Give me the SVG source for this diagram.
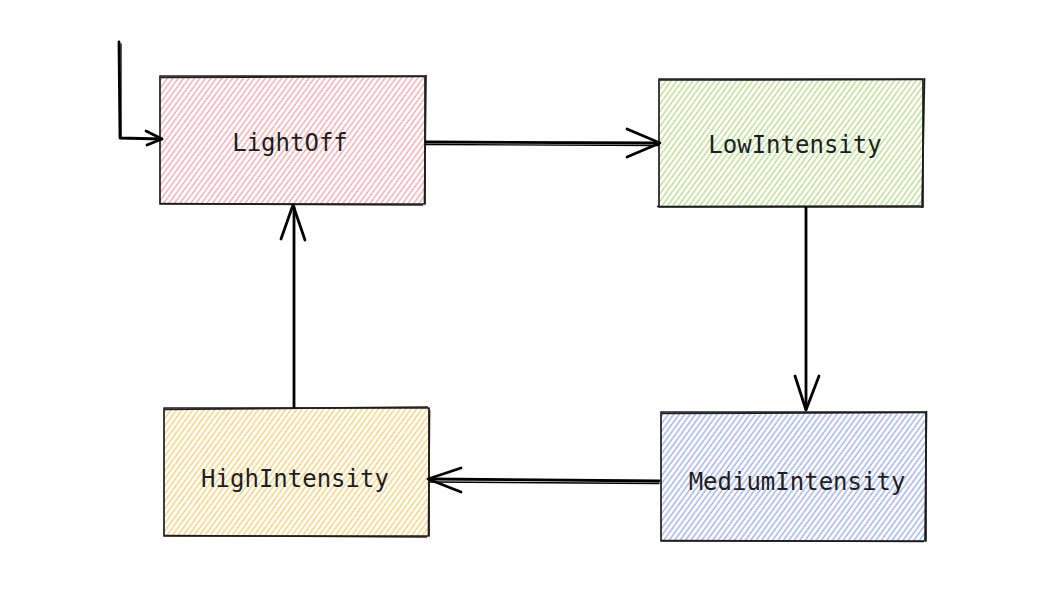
<svg xmlns="http://www.w3.org/2000/svg" width="1063" height="612" viewBox="0 0 1063 612">
<defs>
<pattern id="hRed" patternUnits="userSpaceOnUse" width="4.4" height="10" patternTransform="rotate(36)"><line x1="1" y1="-1" x2="1" y2="11" stroke="#f2a6a6" stroke-width="1.3"/></pattern>
<pattern id="hGreen" patternUnits="userSpaceOnUse" width="4.4" height="10" patternTransform="rotate(36)"><line x1="1" y1="-1" x2="1" y2="11" stroke="#b4dc88" stroke-width="1.3"/></pattern>
<pattern id="hYellow" patternUnits="userSpaceOnUse" width="4.4" height="10" patternTransform="rotate(36)"><line x1="1" y1="-1" x2="1" y2="11" stroke="#f5cf72" stroke-width="1.3"/></pattern>
<pattern id="hBlue" patternUnits="userSpaceOnUse" width="4.4" height="10" patternTransform="rotate(36)"><line x1="1" y1="-1" x2="1" y2="11" stroke="#9aacea" stroke-width="1.3"/></pattern>
</defs>
<style>
.box{stroke:#1e1e1e;stroke-width:1.7;stroke-linejoin:round}
.lbl{font-family:"DejaVu Sans Mono","Liberation Mono",monospace;font-size:24px;fill:#1e1e1e;text-anchor:middle;dominant-baseline:central}
.edge{fill:none;stroke:#000;stroke-width:2.8;stroke-linecap:round;stroke-linejoin:round}
.edge2{fill:none;stroke:#000;stroke-width:1.3;stroke-linecap:round}
</style>
<rect width="1063" height="612" fill="#ffffff"/>
<g id="LightOff">
<rect class="box" x="160" y="76" width="265" height="128" fill="url(#hRed)"/>
<path class="box" fill="none" d="M161 77.5 L424 76.5 M426 75 L424.5 203 M423 205 L160 203.5"/>
<text class="lbl" x="290" y="143">LightOff</text>
</g>
<g id="LowIntensity">
<rect class="box" x="659" y="79" width="264" height="128" fill="url(#hGreen)"/>
<path class="box" fill="none" d="M660 80 L922 79.5 M924.5 78 L922 208 M921 206 L657 206.5"/>
<text class="lbl" x="795" y="145">LowIntensity</text>
</g>
<g id="HighIntensity">
<rect class="box" x="164" y="408" width="265" height="128" fill="url(#hYellow)"/>
<path class="box" fill="none" d="M165 409.5 L428 407 M429.5 410 L428.5 536 M427 537 L164 535.5"/>
<text class="lbl" x="295" y="479">HighIntensity</text>
</g>
<g id="MediumIntensity">
<rect class="box" x="661" y="412" width="265" height="129" fill="url(#hBlue)"/>
<path class="box" fill="none" d="M662 413.5 L925 412.5 M926.5 411 L925 540 M924 541.5 L661 540.5"/>
<text class="lbl" x="797" y="482">MediumIntensity</text>
</g>
<g id="connectors">
<path class="edge" d="M119 42 L120 138 L161 139"/>
<path class="edge2" d="M121 44 L121 137"/>
<path class="edge" d="M146 131 L162 139 L147 145"/>
<path class="edge" d="M426 142 L659 143"/>
<path class="edge2" d="M426 144.5 L659 145.5"/>
<path class="edge" d="M627 129 L660 143 L627 157"/>
<path class="edge" d="M806 208 L806 409"/>
<path class="edge" d="M795 376 L806 410 L819 376"/>
<path class="edge" d="M659 481 L430 479"/>
<path class="edge2" d="M659 483.5 L430 482"/>
<path class="edge" d="M461 468 L428 479 L461 492"/>
<path class="edge" d="M294 407 L294 207"/>
<path class="edge" d="M281 239 L293 205 L305 240"/>
</g>
</svg>
